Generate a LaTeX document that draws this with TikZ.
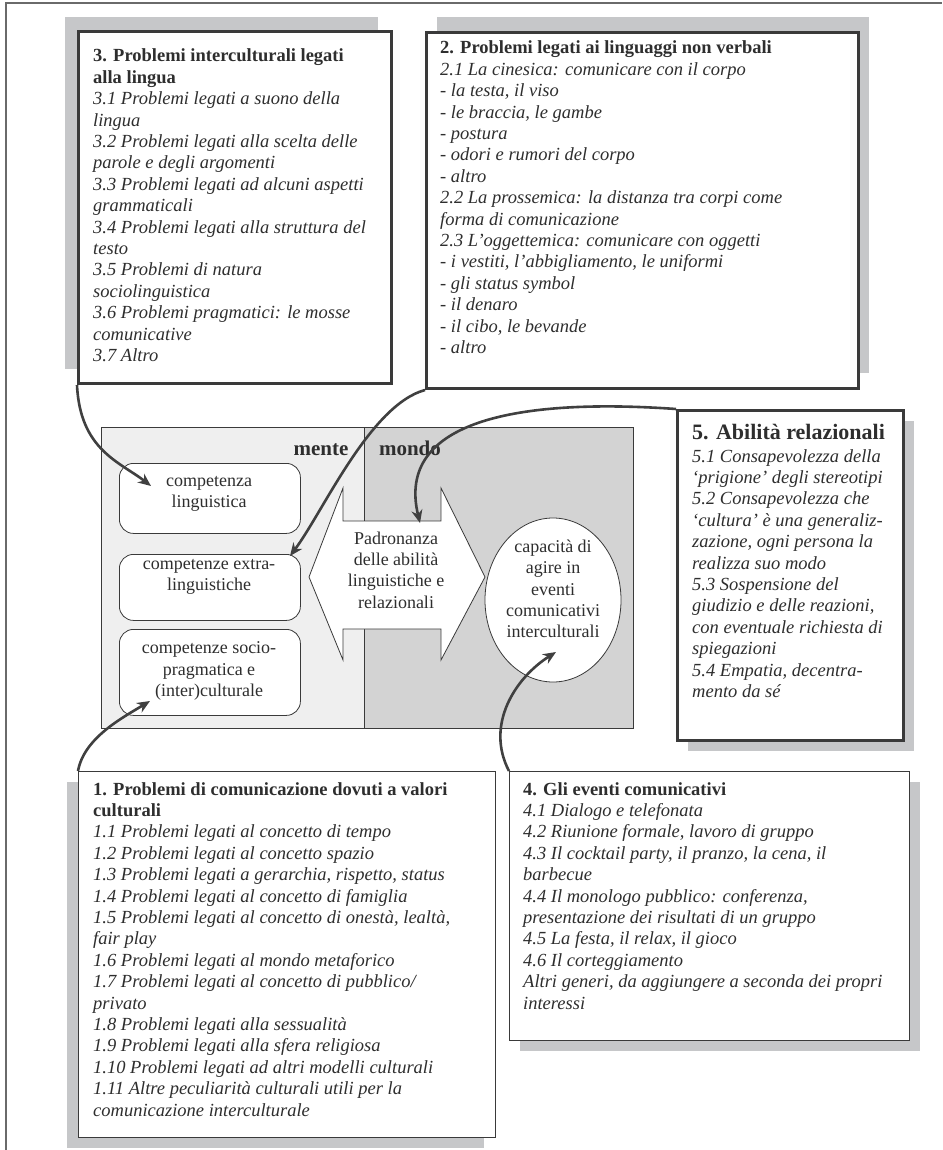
\documentclass[tikz,border=0pt]{standalone}
\usepackage{fontspec}
\setmainfont{Liberation Serif}
\usetikzlibrary{arrows.meta,shapes.geometric}
\definecolor{shad}{HTML}{C6C7C9}
\definecolor{bord}{HTML}{3A3A3A}
\definecolor{txt}{HTML}{2E2E2E}
\definecolor{menteC}{HTML}{EFEFEF}
\definecolor{mondoC}{HTML}{D3D3D3}
\definecolor{arrC}{HTML}{404040}
\definecolor{frameC}{HTML}{6A6A6A}
\tikzset{
  thickbox/.style={draw=bord, line width=3pt, fill=white, inner sep=0, anchor=north west},
  thinbox/.style={draw=bord, line width=1.2pt, fill=white, inner sep=0, anchor=north west},
  shadowbox/.style={fill=shad, draw=none, inner sep=0, anchor=north west},
  boxtext/.style={anchor=base west, inner sep=0, text=txt, font=\fontsize{18.5}{21.4}\selectfont},
  compbox/.style={draw=bord, line width=0.8pt, fill=white, rounded corners=14pt, minimum width=181pt, inner sep=0, anchor=north west},
  comptext/.style={align=center, text=txt, font=\fontsize{18}{21.4}\selectfont, inner sep=0},
  regionlabel/.style={anchor=base, inner sep=0, text=txt, font=\fontsize{21}{24}\selectfont\bfseries},
  conn/.style={draw=arrC, line width=2.6pt, -{Stealth[length=13pt,width=11pt]}},
}
\begin{document}
\begin{tikzpicture}[x=1pt,y=-1pt]
\useasboundingbox (0,0) rectangle (942,1150);
% outer frame (top and left)
\draw[frameC, line width=1.2pt] (6,1150) -- (6,3) -- (942,3);

% ---------- central region ----------
\fill[menteC] (101,427) rectangle (364,728);
\fill[mondoC] (364,427) rectangle (633,728);
\draw[bord, line width=0.8pt] (101,427) rectangle (633,728);
\draw[bord, line width=0.8pt] (364,427) -- (364,728);
\node[regionlabel] (mente) at (321,455) {mente};
\node[regionlabel] (mondo) at (410,455) {mondo};

\node[compbox, minimum height=70pt] (c1) at (119,463) {};
\node[compbox, minimum height=66pt] (c2) at (119,554) {};
\node[compbox, minimum height=86pt] (c3) at (119,629) {};
\node[comptext] (c1t) at (209,494) {competenza\\linguistica};
\node[comptext] (c2t) at (209,577) {competenze extra-\\linguistiche};
\node[comptext] (c3t) at (209,671) {competenze socio-\\pragmatica e\\(inter)culturale};

\draw[bord, fill=white, line width=0.8pt] (309,577) -- (343,488) -- (343,521) -- (441,521) -- (441,488) -- (485,577) -- (441,660) -- (441,629) -- (343,629) -- (343,660) -- cycle;
\node[comptext] (pad) at (396,570) {Padronanza\\delle abilità\\linguistiche e\\relazionali};

\node[draw=bord, fill=white, line width=0.8pt, ellipse, minimum width=136pt, minimum height=164pt, inner sep=0] (ell) at (553,600) {};
\node[comptext] (ellt) at (553,589) {capacità di\\agire in\\eventi\\comunicativi\\interculturali};

% ---------- box 3 ----------
\node[shadowbox, minimum width=313pt, minimum height=352pt] (s3) at (65,17) {};
\node[thickbox, minimum width=313pt, minimum height=352pt] (b3) at (77,30) {};
\node[boxtext] (b3t) at (93,62) {\parbox[t]{290pt}{\bfseries 3. Problemi interculturali legati\\alla lingua\\
\mdseries\itshape 3.1 Problemi legati a suono della\\lingua\\3.2 Problemi legati alla scelta delle\\parole e degli argomenti\\3.3 Problemi legati ad alcuni aspetti\\grammaticali\\3.4 Problemi legati alla struttura del\\testo\\3.5 Problemi di natura\\sociolinguistica\\3.6 Problemi pragmatici: le mosse\\comunicative\\3.7 Altro}};

% ---------- box 2 ----------
\node[shadowbox, minimum width=432pt, minimum height=356pt] (s2) at (437,17) {};
\node[thickbox, minimum width=432pt, minimum height=356pt] (b2) at (425,31) {};
\node[boxtext] (b2t) at (440,54) {\parbox[t]{410pt}{\bfseries 2. Problemi legati ai linguaggi non verbali\\
\mdseries\itshape 2.1 La cinesica: comunicare con il corpo\\- la testa, il viso\\- le braccia, le gambe\\- postura\\- odori e rumori del corpo\\- altro\\2.2 La prossemica: la distanza tra corpi come\\forma di comunicazione\\2.3 L’oggettemica: comunicare con oggetti\\- i vestiti, l’abbigliamento, le uniformi\\- gli status symbol\\- il denaro\\- il cibo, le bevande\\- altro}};

% ---------- box 5 ----------
\node[shadowbox, minimum width=226pt, minimum height=330pt] (s5) at (688,421) {};
\node[thickbox, minimum width=226pt, minimum height=330pt] (b5) at (676,409) {};
\node[boxtext] (b5t) at (692,439) {\parbox[t]{215pt}{{\fontsize{22}{25}\selectfont\bfseries 5. Abilità relazionali\par}\vspace{1.6pt}
\itshape 5.1 Consapevolezza della\\‘prigione’ degli stereotipi\\5.2 Consapevolezza che\\‘cultura’ è una generaliz-\\zazione, ogni persona la\\realizza suo modo\\5.3 Sospensione del\\giudizio e delle reazioni,\\con eventuale richiesta di\\spiegazioni\\5.4 Empatia, decentra-\\mento da sé}};

% ---------- box 1 ----------
\node[shadowbox, minimum width=417pt, minimum height=366pt] (s1) at (67,782) {};
\node[thinbox, minimum width=417pt, minimum height=366pt] (b1) at (78,771) {};
\node[boxtext] (b1t) at (93,795) {\parbox[t]{400pt}{\bfseries 1. Problemi di comunicazione dovuti a valori\\culturali\\
\mdseries\itshape 1.1 Problemi legati al concetto di tempo\\1.2 Problemi legati al concetto spazio\\1.3 Problemi legati a gerarchia, rispetto, status\\1.4 Problemi legati al concetto di famiglia\\1.5 Problemi legati al concetto di onestà, lealtà,\\fair play\\1.6 Problemi legati al mondo metaforico\\1.7 Problemi legati al concetto di pubblico/\\privato\\1.8 Problemi legati alla sessualità\\1.9 Problemi legati alla sfera religiosa\\1.10 Problemi legati ad altri modelli culturali\\1.11 Altre peculiarità culturali utili per la\\comunicazione interculturale}};

% ---------- box 4 ----------
\node[shadowbox, minimum width=400pt, minimum height=269pt] (s4) at (520,782) {};
\node[thinbox, minimum width=400pt, minimum height=269pt] (b4) at (509,771) {};
\node[boxtext] (b4t) at (523,795) {\parbox[t]{390pt}{\bfseries 4. Gli eventi comunicativi\\
\mdseries\itshape 4.1 Dialogo e telefonata\\4.2 Riunione formale, lavoro di gruppo\\4.3 Il cocktail party, il pranzo, la cena, il\\barbecue\\4.4 Il monologo pubblico: conferenza,\\presentazione dei risultati di un gruppo\\4.5 La festa, il relax, il gioco\\4.6 Il corteggiamento\\Altri generi, da aggiungere a seconda dei propri\\interessi}};

% ---------- connectors ----------
\coordinate (t3) at (151,486);
\coordinate (t2) at (290,556);
\coordinate (t5) at (420,523);
\coordinate (t4) at (556,652);
\coordinate (t1) at (150,701);
\draw[conn] (b3.south west) .. controls (80,450) and (120,462) .. (t3);
\draw[conn] (b2.south west) .. controls (370,405) and (323,512) .. (t2);
\draw[conn] (b5.north west) .. controls (520,398) and (395,420) .. (t5);
\draw[conn] (b4.north west) .. controls (485,725) and (515,678) .. (t4);
\draw[conn] (b1.north west) .. controls (84,738) and (122,718) .. (t1);
\end{tikzpicture}
\end{document}
